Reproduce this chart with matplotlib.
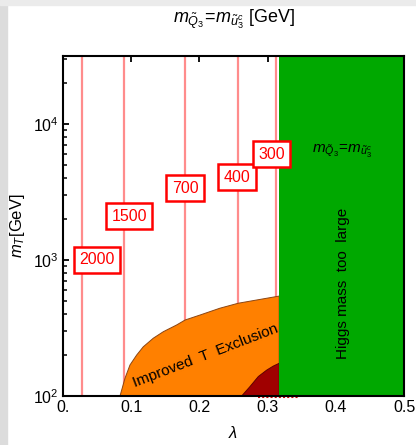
import numpy as np
import matplotlib
matplotlib.use("Agg")
import matplotlib.pyplot as plt
from matplotlib.patches import Rectangle

plt.rcParams['font.family'] = ['Liberation Sans', 'DejaVu Sans']
plt.rcParams['mathtext.fontset'] = 'custom'
plt.rcParams['mathtext.rm'] = 'Liberation Sans'
plt.rcParams['mathtext.it'] = 'Liberation Sans:italic'
plt.rcParams['mathtext.bf'] = 'Liberation Sans:bold'

# contour lines of stop mass (vertical, lambda position) and their label spots
contour_masses = ['2000', '1500', '700', '400', '300']
contour_x = [0.028, 0.089, 0.179, 0.256, 0.312]
label_x = [0.050, 0.097, 0.179, 0.255, 0.306]
label_y = [1000, 2100, 3380, 4070, 6000]

# improved T exclusion boundary (orange)
excl_x = [0.0836, 0.0909, 0.0982, 0.108, 0.1177, 0.1324, 0.1471, 0.1667,
          0.179, 0.201, 0.230, 0.257, 0.284, 0.317]
excl_y = [100, 135, 169, 200, 230, 266, 297, 333, 362, 394, 442, 481, 508, 543]

# current exclusion (dark red)
dark_x = [0.262, 0.274, 0.2864, 0.2987, 0.3084, 0.317]
dark_y = [100, 117, 139, 155, 166, 174]

# Higgs mass too large above this lambda
higgs_lam = 0.317

x_max = 0.5
y_min, y_max = 100, 10 ** 4.5

fig = plt.figure(figsize=(4.16, 4.45), dpi=100)
fig.patches.append(Rectangle((0, 0), 7 / 416, 1, transform=fig.transFigure,
                             color='#dcdcdc', zorder=-10))
fig.patches.append(Rectangle((0, 1 - 5 / 445), 1, 5 / 445, transform=fig.transFigure,
                             color='#ebebeb', zorder=-10))

ax = fig.add_axes([63 / 416, 49 / 445, 341 / 416, 340 / 445])
ax.set_yscale('log')
ax.set_xlim(0, x_max)
ax.set_ylim(y_min, y_max)

# contour lines
for xv in contour_x:
    ax.plot([xv, xv], [y_min, y_max], color='#ff8c8c', lw=1.6, zorder=1)

# orange region
ox = excl_x + [higgs_lam]
oy = excl_y + [y_min]
ax.fill(ox, oy, facecolor='#ff8000', edgecolor='#8b4513', lw=0.7, zorder=2)

# dark red region
dx = dark_x + [higgs_lam]
dy = dark_y + [y_min]
ax.fill(dx, dy, facecolor='#a00000', edgecolor='#600000', lw=0.7, zorder=3)

# green region
ax.fill_between([higgs_lam, x_max], y_min, y_max, color='#00a800', lw=0, zorder=4)

# small red dotted contour piece at the bottom edge
ax.plot([0.286, 0.345], [98, 98], color='#cc0000', lw=1.5, ls=(0, (1, 1)),
        clip_on=False, zorder=5)

for m, xv, yv in zip(contour_masses, label_x, label_y):
    ax.text(xv, yv, m, color='#ff0000', fontsize=11.5, ha='center', va='center',
            zorder=6,
            bbox=dict(boxstyle='square,pad=0.33', fc='white', ec='#ff0000', lw=1.8))

ax.text(0.209, 196, 'Improved  T  Exclusion', rotation=21, fontsize=11,
        ha='center', va='center', zorder=7)
ax.text(0.4106, 672, 'Higgs mass  too  large', rotation=90, fontsize=11,
        ha='center', va='center', zorder=7)
ax.text(0.41, 6330, r'$m_{\tilde{Q}_3}\!=\!m_{\tilde{u}^c_3}$', fontsize=11,
        ha='center', va='center', zorder=7)

ax.set_xticks([0, 0.1, 0.2, 0.3, 0.4, 0.5])
ax.set_xticklabels(['0.', '0.1', '0.2', '0.3', '0.4', '0.5'])
ax.tick_params(axis='both', which='major', direction='in', length=4.5, width=1.3,
               top=True, right=True, labelsize=11.5, pad=3)
ax.tick_params(axis='y', which='minor', direction='in', length=2.8, width=1.1,
               right=True)
for s in ax.spines.values():
    s.set_linewidth(1.5)
    s.set_zorder(10)

ax.set_xlabel(r'$\lambda$', fontsize=12, labelpad=7)
ax.set_ylabel(r'$m_T$[GeV]', fontsize=12, labelpad=4)
ax.set_title(r'$m_{\tilde{Q}_3}\!=\!m_{\tilde{u}^c_3}$ [GeV]', fontsize=13, pad=24)

fig.savefig('out.png', dpi=100)
